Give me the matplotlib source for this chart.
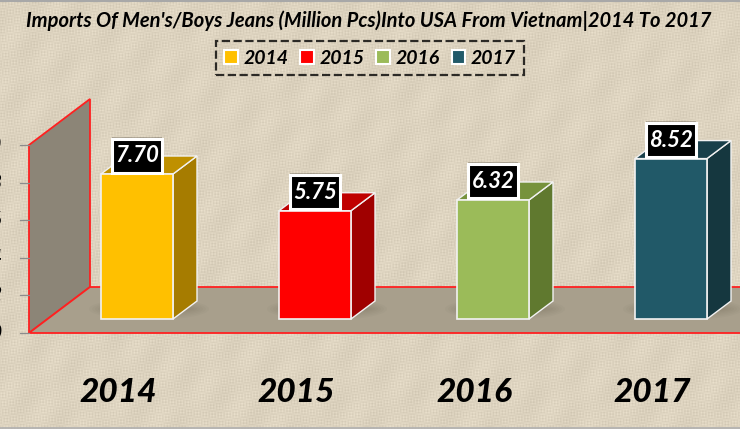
import numpy as np
import matplotlib
matplotlib.use("Agg")
import matplotlib.pyplot as plt
from matplotlib.patches import Polygon, Patch, Ellipse, Rectangle

plt.rcParams['font.family'] = ['Lato', 'DejaVu Sans']

# data
years = ["2014", "2015", "2016", "2017"]
values = [7.70, 5.75, 6.32, 8.52]
front_colors = ["#FFC000", "#FF0000", "#9BBB59", "#215968"]
top_colors = ["#BF9000", "#C00000", "#76923C", "#183F4A"]
side_colors = ["#A67C00", "#A00000", "#60792F", "#15373F"]
axis_ticks = [0, 2, 4, 6, 8, 10]
title = "Imports Of Men's/Boys Jeans (Million Pcs)Into USA From Vietnam|2014 To 2017"

W, H = 740, 429
fig = plt.figure(figsize=(7.4, 4.29), dpi=100)
ax = fig.add_axes([0, 0, 1, 1])

# pixel <-> data scales
x0, x_step = 137, 178
y0, y_step = 319, 18.83
xlim = ((0 - x0) / x_step, (W - x0) / x_step)
ylim = ((y0 - H) / y_step, y0 / y_step)
ax.axis("off")

def px(x):
    return (x - x0) / x_step

def py(y):
    return (y0 - y) / y_step

# linen texture, plain weave pattern
yy, xx = np.mgrid[0:H, 0:W]
weave = (np.sin(xx * 2.1) * np.sin(yy * 0.37 + np.sin(xx * 0.05))
         + np.sin(yy * 2.1) * np.sin(xx * 0.41 + np.sin(yy * 0.07))
         + 0.6 * np.sin(xx * 0.13 + yy * 0.09) * np.sin(xx * 0.031 - yy * 0.053))
base = np.array([221, 211, 191]) / 255
tex = base[None, None, :] + (weave * 0.024)[:, :, None]
ax.imshow(np.clip(tex, 0, 1), extent=xlim + ylim, aspect="auto", origin="upper", zorder=0)
ax.set_xlim(xlim)
ax.set_ylim(ylim)

# screenshot edges
ax.plot([px(0), px(W)], [py(1), py(1)], color="#A8A8A8", lw=1.5, zorder=1)
ax.plot([px(0), px(W)], [py(427.5), py(427.5)], color="#B0B0B0", lw=1.2, zorder=1)

# wall and floor
fl, fr = 29, 90
front_y, back_y = 333, 287
axis_h = 37.6 / 2  # pixels per unit on the axis
wall_top = axis_ticks[-1] * axis_h
wall = [(px(fl), py(front_y)), (px(fr), py(back_y)),
        (px(fr), py(back_y - wall_top)), (px(fl), py(front_y - wall_top))]
floor = [(px(fl), py(front_y)), (px(fr), py(back_y)),
         (px(W + 5), py(back_y)), (px(W + 5), py(front_y))]
ax.add_patch(Polygon(wall, closed=True, fc="#8C8577", ec="#FF2020", lw=1.3, zorder=2))
ax.add_patch(Polygon(floor, closed=True, fc="#A89F8C", ec="#FF2020", lw=1.3, zorder=2))

# axis ticks, labels run off the left edge
for t in axis_ticks:
    yp = front_y - t * axis_h
    ax.plot([px(20), px(fl)], [py(yp), py(yp)], color="#8C8C8C", lw=0.9, zorder=2)
    ax.text(px(1.5), py(yp), str(t), ha="right", va="center", fontsize=15,
            fontweight="bold", style="italic", color="black", zorder=3)

# bars
bw = 72 / x_step
dx, dy = 24 / x_step, 18 / y_step
for i, v in enumerate(values):
    l, r = i - bw / 2, i + bw / 2
    # soft shadow on the floor
    for k in range(7):
        ax.add_patch(Ellipse((i + 12 / x_step, py(309)), (84 + k * 6) / x_step, (4 + k * 3) / y_step,
                             fc="#3A352B", ec="none", alpha=0.028, zorder=3))
    side = [(r, 0), (r + dx, dy), (r + dx, v + dy), (r, v)]
    top = [(l, v), (l + dx, v + dy), (r + dx, v + dy), (r, v)]
    ax.add_patch(Polygon(side, closed=True, fc=side_colors[i], ec="#F2F2F2", lw=1.0, zorder=4))
    ax.add_patch(Polygon(top, closed=True, fc=top_colors[i], ec="#F2F2F2", lw=1.0, zorder=4))
    ax.bar(i, v, width=bw, color=front_colors[i], edgecolor="#F2F2F2", linewidth=1.2, zorder=5)

    # value label box
    bx, by = 50 / x_step, 34 / y_step
    yc = v + 18.5 / y_step
    ax.add_patch(Rectangle((i - bx / 2, yc - by / 2 + 2 / y_step), bx, by, fc="#3A352B", ec="none",
                           alpha=0.3, zorder=6))
    ax.add_patch(Rectangle((i - bx / 2, yc - by / 2), bx, by, fc="black", ec="white", lw=2.2, zorder=6))
    ax.text(i, yc, f"{v:.2f}", ha="center", va="center", fontsize=16,
            fontweight="bold", style="italic", color="white", zorder=7)

    # category label
    ax.text(i - 19 / x_step, py(393), years[i], ha="center", va="center", fontsize=24,
            fontweight="black", style="italic", color="black", zorder=3)

# title
ax.text(px(369), py(21), title, ha="center", va="center", fontsize=14.5,
        fontweight="bold", style="italic", color="black", zorder=3)

# legend
handles = [Patch(fc=c, ec="white", lw=1.5) for c in front_colors]
leg = ax.legend(handles, years, ncol=4, loc="center",
                bbox_to_anchor=(370 / W, 1 - 58 / H), bbox_transform=ax.transAxes,
                fontsize=14, frameon=True, handlelength=0.7, handleheight=0.7,
                handletextpad=0.3, columnspacing=0.6, borderpad=0.42, borderaxespad=0,
                fancybox=False)
leg.get_frame().set(facecolor="none", edgecolor="black", linestyle="--", linewidth=1.6)
leg.set_zorder(8)
for t in leg.get_texts():
    t.set_fontweight("bold")
    t.set_fontstyle("italic")

fig.savefig("out.png", dpi=100)
